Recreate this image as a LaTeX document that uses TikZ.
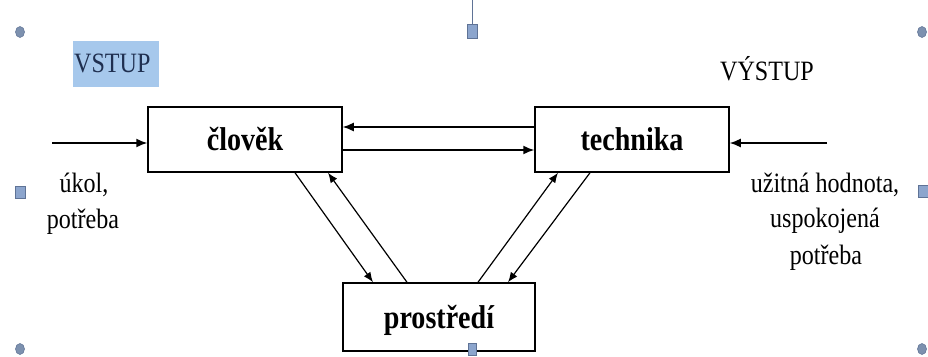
\documentclass[tikz,border=0pt]{standalone}
\usepackage{fontspec}
\setmainfont{Liberation Serif}
\usepackage{graphicx}
\usetikzlibrary{arrows.meta}
\definecolor{hl}{RGB}{166,200,236}
\definecolor{navy}{RGB}{31,47,80}
\definecolor{hcirc}{RGB}{125,145,175}
\definecolor{hsq}{RGB}{140,165,205}
\definecolor{hedge}{RGB}{95,115,150}
\newcommand\cx[1]{\scalebox{0.86}[1]{#1}}
\newcommand\bx[1]{\scalebox{0.85}[1]{#1}}
\begin{document}
\begin{tikzpicture}[x=1pt,y=-1pt,
  box/.style={draw,line width=1.5pt,minimum width=194pt,minimum height=65pt,inner sep=0pt,
    text height=22pt,text depth=0pt,font=\fontsize{33}{40}\selectfont\bfseries},
  lbl/.style={anchor=base,inner sep=0pt,font=\fontsize{28}{34}\selectfont},
  harr/.style={line width=1.5pt,-{Latex[length=11pt,width=9pt]}},
  darr/.style={line width=1.2pt,-{Latex[length=10pt,width=8pt]}},
  hcircle/.style={fill=hcirc,draw=hedge,line width=0.6pt},
  hsquare/.style={fill=hsq,draw=hedge,line width=0.6pt}
]
\useasboundingbox (0,0) rectangle (928,356);

% boxes
\node[box] (clo) at (245,139.5) {\bx{člověk}};
\node[box] (tech) at (632,139.5) {\bx{technika}};
\node[box,minimum width=192pt,minimum height=68pt] (pro) at (439,317) {\bx{prostředí}};

% horizontal arrows
\draw[harr] ([yshift=12.5pt]tech.west) -- ([yshift=12.5pt]clo.east);
\draw[harr] ([yshift=-10.5pt]clo.east) -- ([yshift=-10.5pt]tech.west);
\coordinate (inL) at (52,143);
\coordinate (outR) at (827,143);
\draw[harr] (inL) -- (inL -| clo.west);
\draw[harr] (outR) -- (outR -| tech.east);

% diagonal arrows
\draw[darr] ([xshift=50pt]clo.south) -- ([xshift=-66pt]pro.north);
\draw[darr] ([xshift=-32pt]pro.north) -- ([xshift=83pt]clo.south);
\draw[darr] ([xshift=39pt]pro.north) -- ([xshift=-74pt]tech.south);
\draw[darr] ([xshift=-42pt]tech.south) -- ([xshift=69pt]pro.north);

% labels
\fill[hl] (73,41) rectangle (159,87);
\node[lbl,anchor=base west,text=navy] (vstup) at (74,72) {\cx{VSTUP}};
\node[lbl,anchor=base west] (vystup) at (720,80) {\cx{VÝSTUP}};
\node[lbl] (in1) at (84,192) {\cx{úkol,}};
\node[lbl] (in2) at (83,228) {\cx{potřeba}};
\node[lbl] (out1) at (825,192) {\cx{užitná hodnota,}};
\node[lbl] (out2) at (825,227) {\cx{uspokojená}};
\node[lbl] (out3) at (826,264) {\cx{potřeba}};

% selection handles
\draw[hedge,line width=0.8pt] (472,0) -- (472,24);
\draw[hsquare] (467,24) rectangle (477,38);
\draw[hsquare] (468,343) rectangle (476,355);
\draw[hsquare] (15,186) rectangle (25,198);
\draw[hsquare] (918,185) rectangle (928,197);
\draw[hcircle] (20,32) ellipse [x radius=4.5pt,y radius=5.5pt];
\draw[hcircle] (922,32) ellipse [x radius=4.5pt,y radius=5.5pt];
\draw[hcircle] (20,349) ellipse [x radius=4.5pt,y radius=5.5pt];
\draw[hcircle] (922,349) ellipse [x radius=4.5pt,y radius=5.5pt];
\end{tikzpicture}
\end{document}
